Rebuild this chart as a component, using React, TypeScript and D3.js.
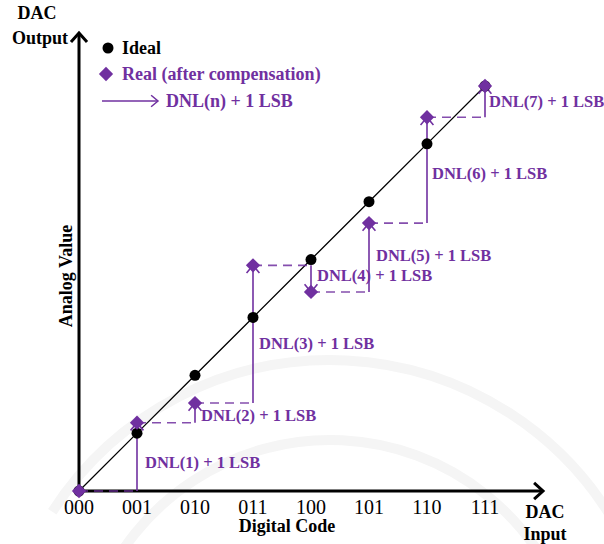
import React from "react";
import * as d3 from "d3";

// DAC transfer characteristic: ideal codes vs. real (compensated) output levels
const codes = ["000", "001", "010", "011", "100", "101", "110", "111"];
const idealValues = [0, 1, 2, 3, 4, 5, 6, 7];
const realValues = [0, 1.18, 1.52, 3.9, 3.44, 4.63, 6.46, 7];
const dnlLabels = [
  "DNL(1) + 1 LSB",
  "DNL(2) + 1 LSB",
  "DNL(3) + 1 LSB",
  "DNL(4) + 1 LSB",
  "DNL(5) + 1 LSB",
  "DNL(6) + 1 LSB",
  "DNL(7) + 1 LSB",
];
const legendItems = ["Ideal", "Real (after compensation)", "DNL(n) + 1 LSB"];

const W = 604;
const H = 544;
const PURPLE = "#7030a0";
const SERIF = "'Liberation Serif', 'Times New Roman', serif";
// nudges (px) for the DNL labels relative to their step's vertical line / midpoint
const labelNudgeX = [8, 6, 6, 6, 7, 5, 4];
const labelNudgeY = [5, 2, 9, -3, -2, 3, 0];

const x = d3.scaleLinear().domain([0, 8]).range([79, 543]);
const y = d3.scaleLinear().domain([0, 7]).range([491, 86]);

function chevron(tx: number, ty: number, angleDeg: number, len: number, spread: number) {
  // open arrowhead with tip at (tx, ty) pointing along angleDeg
  const a = (angleDeg * Math.PI) / 180;
  const s = (spread * Math.PI) / 180;
  const p1 = [tx - len * Math.cos(a - s), ty - len * Math.sin(a - s)];
  const p2 = [tx - len * Math.cos(a + s), ty - len * Math.sin(a + s)];
  return `M${p1[0]},${p1[1]}L${tx},${ty}L${p2[0]},${p2[1]}`;
}

const diamond = d3.symbol().type(d3.symbolDiamond2).size(130);

export default function App() {
  const idealLine = d3
    .line<number>()
    .x((_, i) => x(i))
    .y((d) => y(d))(idealValues) as string;

  return (
    <svg width={W} height={H} style={{ position: "absolute", left: 0, top: 0, background: "#fff" }}>
      {/* faint background emblem */}
      <g fill="none" stroke="#f5f5f5" strokeWidth={10}>
        <path d={d3.arc()({ innerRadius: 250, outerRadius: 250, startAngle: -1.2, endAngle: 1.3 }) as string} transform="translate(330,690)" />
        <path d={d3.arc()({ innerRadius: 330, outerRadius: 330, startAngle: -1.0, endAngle: 1.1 }) as string} transform="translate(330,690)" />
      </g>

      {/* axes */}
      <line x1={x(0)} y1={y(0)} x2={x(0)} y2={33} stroke="#000" strokeWidth={3} />
      <line x1={x(0)} y1={y(0)} x2={x(8)} y2={y(0)} stroke="#000" strokeWidth={3} />
      <path d={chevron(x(0), 33, -90, 12, 42)} fill="none" stroke="#000" strokeWidth={3} />
      <path d={chevron(x(8), y(0), 0, 12, 42)} fill="none" stroke="#000" strokeWidth={3} />

      {/* axis labels */}
      <g fontFamily={SERIF} fontWeight="bold" fontSize={18} fill="#000" textAnchor="middle">
        <text x={37} y={19}>DAC</text>
        <text x={40} y={44}>Output</text>
        <text x={545} y={518}>DAC</text>
        <text x={545} y={540}>Input</text>
        <text x={287} y={532}>Digital Code</text>
        <text transform="translate(72,276) rotate(-90)">Analog Value</text>
      </g>
      <g fontFamily={SERIF} fontSize={20} fill="#000" textAnchor="middle">
        {codes.map((c, i) => (
          <text key={c} x={x(i)} y={514}>
            {c}
          </text>
        ))}
      </g>

      {/* ideal transfer line */}
      <path d={idealLine} fill="none" stroke="#000" strokeWidth={1.3} />

      {/* steps: dashed run from previous level, then arrow to new level */}
      {realValues.slice(1).map((v, k) => {
        const i = k + 1;
        const prev = realValues[i - 1];
        const up = v > prev;
        return (
          <g key={i}>
            <line
              x1={x(i - 1)}
              y1={y(prev)}
              x2={x(i)}
              y2={y(prev)}
              stroke={PURPLE}
              strokeWidth={1.6}
              strokeDasharray="9,6"
              opacity={0.85}
            />
            <line x1={x(i)} y1={y(prev)} x2={x(i)} y2={y(v)} stroke={PURPLE} strokeWidth={1.6} />
            <path
              d={chevron(x(i), y(v), up ? -90 : 90, 10, 40)}
              fill="none"
              stroke={PURPLE}
              strokeWidth={1.6}
            />
          </g>
        );
      })}

      {/* ideal points */}
      {idealValues.map((v, i) => (
        <circle key={i} cx={x(i)} cy={y(v)} r={5.5} fill="#000" />
      ))}

      {/* real points */}
      {realValues.map((v, i) => (
        <path key={i} d={diamond() as string} transform={`translate(${x(i)},${y(v)})`} fill={PURPLE} />
      ))}

      {/* DNL labels */}
      <g fontFamily={SERIF} fontWeight="bold" fontSize={16.5} fill={PURPLE}>
        {dnlLabels.map((t, k) => {
          const i = k + 1;
          const mid = (realValues[i] + realValues[i - 1]) / 2;
          return (
            <text key={t} x={x(i) + labelNudgeX[k]} y={y(mid) + labelNudgeY[k]} dy="0.35em">
              {t}
            </text>
          );
        })}
      </g>

      {/* legend */}
      <g fontFamily={SERIF} fontWeight="bold" fontSize={18}>
        <circle cx={108} cy={48} r={5.5} fill="#000" />
        <text x={122} y={54} fill="#000">{legendItems[0]}</text>
        <path d={diamond() as string} transform="translate(106,74)" fill={PURPLE} />
        <text x={122} y={80} fill={PURPLE}>{legendItems[1]}</text>
        <line x1={102} y1={101} x2={158} y2={101} stroke={PURPLE} strokeWidth={1.5} />
        <path d={chevron(158, 101, 0, 9, 40)} fill="none" stroke={PURPLE} strokeWidth={1.5} />
        <text x={166} y={107} fill={PURPLE}>{legendItems[2]}</text>
      </g>
    </svg>
  );
}
